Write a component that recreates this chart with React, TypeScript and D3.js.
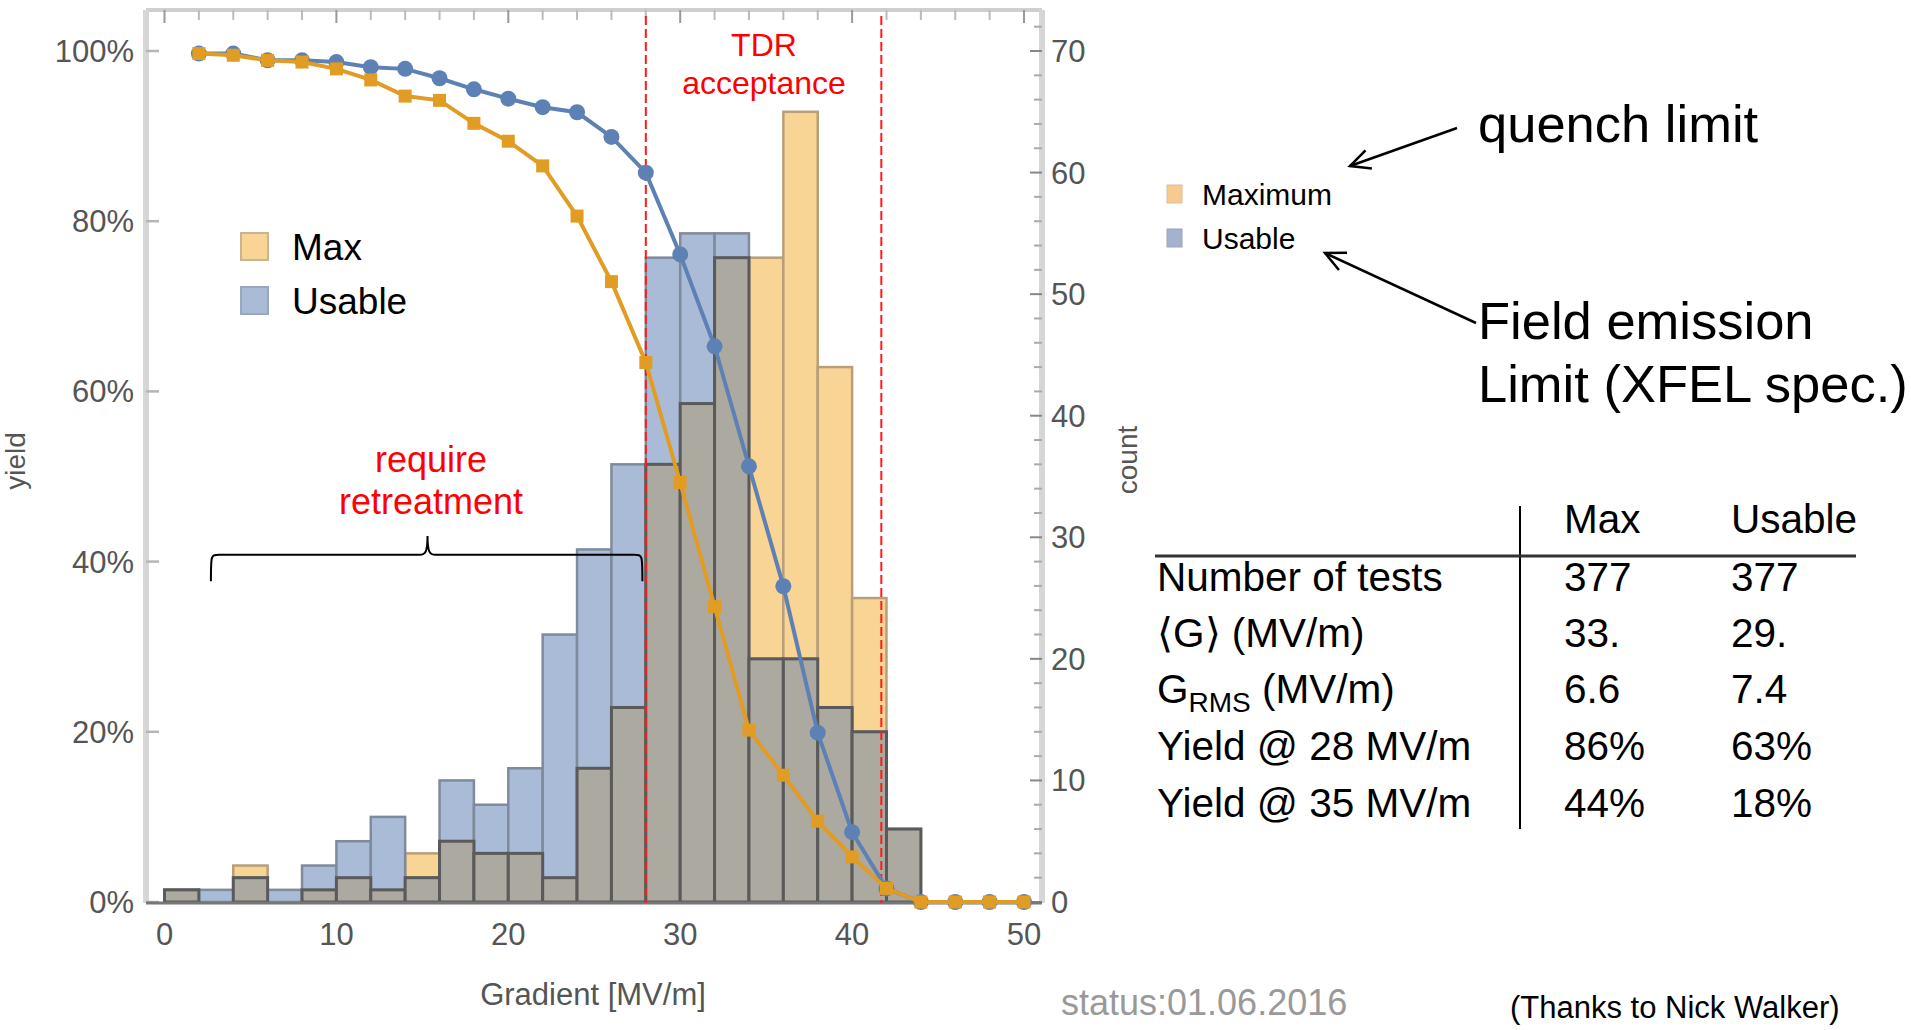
import React from "react";
import * as d3 from "d3";

// histogram bins (lower edge, MV/m), 2 MV/m wide
const binStarts = [0, 2, 4, 6, 8, 10, 12, 14, 16, 18, 20, 22, 24, 26, 28, 30, 32, 34, 36, 38, 40, 42, 44, 46, 48];
const maxCounts = [1, 0, 3, 0, 1, 2, 1, 4, 5, 4, 4, 2, 11, 16, 36, 41, 53, 53, 65, 44, 25, 6, 0, 0, 0];
const usableCounts = [1, 1, 2, 1, 3, 5, 7, 2, 10, 8, 11, 22, 29, 36, 53, 55, 55, 20, 20, 16, 14, 6, 0, 0, 0];

// yield curves (percent of cavities above gradient)
const yieldGradients = [2, 4, 6, 8, 10, 12, 14, 16, 18, 20, 22, 24, 26, 28, 30, 32, 34, 36, 38, 40, 42, 44, 46, 48, 50];
const maxYield = [99.7, 99.7, 98.9, 98.9, 98.7, 98.1, 97.9, 96.8, 95.5, 94.4, 93.4, 92.8, 89.9, 85.7, 76.1, 65.3, 51.2, 37.1, 19.9, 8.2, 1.6, 0, 0, 0, 0];
const usableYield = [99.7, 99.5, 98.9, 98.7, 97.9, 96.6, 94.7, 94.2, 91.5, 89.4, 86.5, 80.6, 72.9, 63.4, 49.3, 34.7, 20.2, 14.9, 9.5, 5.3, 1.6, 0, 0, 0, 0];

const xTicks = [0, 10, 20, 30, 40, 50];
const pctTicks = [0, 20, 40, 60, 80, 100];
const countTicks = [0, 10, 20, 30, 40, 50, 60, 70];

const tdrLimits = [28, 41.7];

const tableHeader = ["Max", "Usable"];
const tableLabels = ["Number of tests", "\u27e8G\u27e9 (MV/m)", "G_RMS", "Yield @ 28 MV/m", "Yield @ 35 MV/m"];
const tableMax = ["377", "33.", "6.6", "86%", "44%"];
const tableUsable = ["377", "29.", "7.4", "63%", "18%"];

const FONT = "'Liberation Sans', Arial, sans-serif";
const BLUE = "#5e81b5";
const ORANGE = "#e19c24";

export default function App() {
  const W = 1911;
  const H = 1030;
  const x = d3.scaleLinear().domain([0, 50]).range([164.5, 1024]);
  const yPct = d3.scaleLinear().domain([0, 100]).range([902, 51]);
  const yCnt = d3.scaleLinear().domain([0, 70]).range([902, 51]);

  const frameL = 146, frameR = 1042, frameT = 10, frameB = 903;

  const bins = binStarts.map((b, i) => ({ b, m: maxCounts[i], u: usableCounts[i] }));

  const maxPts = yieldGradients.map((g, i) => [g, maxYield[i]] as [number, number]);
  const usePts = yieldGradients.map((g, i) => [g, usableYield[i]] as [number, number]);
  const line = d3.line<[number, number]>().x(d => x(d[0])).y(d => yPct(d[1]));

  const topTicks = d3.range(0, 51, 2);
  const minorCount = d3.range(0, 73, 2);

  // brace for "require retreatment"
  const bx0 = x(2.7), bx1 = x(27.8), bm = x(15.3);
  const byL = yPct(40.8), byE = yPct(37.7), byC = yPct(43);
  const brace = `M${bx0},${byE} C${bx0},${byL} ${bx0},${byL} ${bx0 + 8},${byL} L${bm - 8},${byL} C${bm - 2},${byL} ${bm},${byL - 3} ${bm},${byC} C${bm},${byL - 3} ${bm + 2},${byL} ${bm + 8},${byL} L${bx1 - 8},${byL} C${bx1},${byL} ${bx1},${byL} ${bx1},${byE}`;

  const arrow = (x1: number, y1: number, x2: number, y2: number) => {
    const a = Math.atan2(y2 - y1, x2 - x1);
    const L = 22, s = 0.45;
    const p1 = [x2 - L * Math.cos(a - s), y2 - L * Math.sin(a - s)];
    const p2 = [x2 - L * Math.cos(a + s), y2 - L * Math.sin(a + s)];
    return (
      <g stroke="#000" strokeWidth={2.5} fill="none">
        <line x1={x1} y1={y1} x2={x2} y2={y2} />
        <polyline points={`${p1[0]},${p1[1]} ${x2},${y2} ${p2[0]},${p2[1]}`} />
      </g>
    );
  };

  const rowBase = [591, 647, 703, 760, 817];

  return (
    <svg width={W} height={H} style={{ position: "absolute", left: 0, top: 0, background: "#fff" }} fontFamily={FONT}>
      <rect width={W} height={H} fill="#fff" />

      {/* frame */}
      <g>
        <line x1={frameL} x2={frameR} y1={frameT} y2={frameT} stroke="#cfcfcf" strokeWidth={4} />
        <line x1={frameL} x2={frameL} y1={frameT} y2={frameB} stroke="#d6d6d6" strokeWidth={6} />
        <line x1={frameR} x2={frameR} y1={frameT} y2={frameB} stroke="#d6d6d6" strokeWidth={6} />
        {topTicks.map(t => (
          <line key={t} x1={x(t)} x2={x(t)} y1={frameT} y2={frameT + (t % 10 === 0 ? 13 : 10)} stroke={t % 10 === 0 ? "#999" : "#bbb"} strokeWidth={2} />
        ))}
        {pctTicks.map(t => (
          <line key={t} x1={frameL} x2={frameL + 13} y1={yPct(t)} y2={yPct(t)} stroke="#b5b5b5" strokeWidth={2.5} />
        ))}
        {minorCount.map(t => (
          <line key={t} x1={frameR - (t % 10 === 0 ? 12 : 8)} x2={frameR} y1={yCnt(t)} y2={yCnt(t)} stroke={t % 10 === 0 ? "#888" : "#aaa"} strokeWidth={2} />
        ))}
      </g>

      {/* histograms */}
      <g>
        {bins.filter(d => d.m > 0).map(d => (
          <rect key={"m" + d.b} x={x(d.b)} width={x(d.b + 2) - x(d.b)} y={yCnt(d.m)} height={yCnt(0) - yCnt(d.m)} fill="#f9d595" stroke="#b89f79" strokeWidth={2.5} />
        ))}
        {bins.filter(d => d.u > 0).map(d => (
          <rect key={"u" + d.b} x={x(d.b)} width={x(d.b + 2) - x(d.b)} y={yCnt(d.u)} height={yCnt(0) - yCnt(d.u)} fill="#a9bbd6" stroke="#7f8a9c" strokeWidth={2.5} />
        ))}
        {bins.filter(d => Math.min(d.m, d.u) > 0).map(d => {
          const v = Math.min(d.m, d.u);
          return (
            <rect key={"o" + d.b} x={x(d.b)} width={x(d.b + 2) - x(d.b)} y={yCnt(v)} height={yCnt(0) - yCnt(v)} fill="#aca9a0" stroke="#5a5a5a" strokeWidth={3} />
          );
        })}
      </g>

      <line x1={frameL} x2={frameR} y1={frameB} y2={frameB} stroke="#777" strokeWidth={3} />

      {/* TDR dashed lines */}
      {tdrLimits.map(t => (
        <line key={t} x1={x(t)} x2={x(t)} y1={frameT + 6} y2={frameB} stroke="#ff1a1a" strokeWidth={2} strokeDasharray="9,4" />
      ))}

      {/* yield curves */}
      <path d={line(maxPts) || ""} fill="none" stroke={BLUE} strokeWidth={4} />
      {maxPts.map(p => (
        <circle key={p[0]} cx={x(p[0])} cy={yPct(p[1])} r={8} fill={BLUE} />
      ))}
      <path d={line(usePts) || ""} fill="none" stroke={ORANGE} strokeWidth={4} />
      {usePts.map(p => (
        <rect key={p[0]} x={x(p[0]) - 6.5} y={yPct(p[1]) - 6.5} width={13} height={13} fill={ORANGE} />
      ))}

      {/* tick labels */}
      <g fill="#555" fontSize={31}>
        {xTicks.map(t => (
          <text key={t} x={x(t)} y={945} textAnchor="middle">{t}</text>
        ))}
        {pctTicks.map(t => (
          <text key={t} x={134} y={yPct(t) + 11} textAnchor="end">{t}%</text>
        ))}
        {countTicks.map(t => (
          <text key={t} x={1051} y={yCnt(t) + 11}>{t}</text>
        ))}
        <text x={593} y={1005} textAnchor="middle">Gradient [MV/m]</text>
        <text transform="translate(25,461) rotate(-90)" textAnchor="middle" fontSize={28}>yield</text>
        <text transform="translate(1137,460) rotate(-90)" textAnchor="middle" fontSize={28}>count</text>
      </g>

      {/* inner legend */}
      <g fontSize={37}>
        <rect x={241} y={233} width={27} height={27} fill="#f9d595" stroke="#c9b48f" strokeWidth={2} />
        <text x={292} y={260}>Max</text>
        <rect x={241} y={287} width={27} height={27} fill="#a9bbd6" stroke="#9aa6ba" strokeWidth={2} />
        <text x={292} y={314}>Usable</text>
      </g>

      {/* red annotations */}
      <g fill="#ff0000" textAnchor="middle">
        <text x={764} y={56} fontSize={32}>TDR</text>
        <text x={764} y={94} fontSize={32}>acceptance</text>
        <text x={431} y={472} fontSize={36}>require</text>
        <text x={431} y={514} fontSize={36}>retreatment</text>
      </g>
      <path d={brace} fill="none" stroke="#000" strokeWidth={2} />

      {/* outer legend and notes */}
      <g fontSize={30}>
        <rect x={1167} y={185} width={15} height={18} fill="#f8ca8c" stroke="#d8c0a0" strokeWidth={1} />
        <text x={1202} y={205}>Maximum</text>
        <rect x={1167} y={229} width={15} height={18} fill="#a3b3cf" stroke="#9aa4b8" strokeWidth={1} />
        <text x={1202} y={249}>Usable</text>
      </g>
      <g fontSize={52.5}>
        <text x={1478} y={142}>quench limit</text>
        <text x={1478} y={339}>Field emission</text>
        <text x={1478} y={402}>Limit (XFEL spec.)</text>
      </g>
      {arrow(1457, 128, 1350, 166)}
      {arrow(1476, 323, 1325, 253)}

      {/* table */}
      <g fontSize={40.5}>
        {tableHeader.map((h, i) => (
          <text key={h} x={i === 0 ? 1564 : 1731} y={533}>{h}</text>
        ))}
        <line x1={1520} x2={1520} y1={506} y2={829} stroke="#000" strokeWidth={2} />
        <line x1={1155} x2={1856} y1={556} y2={556} stroke="#333" strokeWidth={3} />
        {tableLabels.map((l, i) =>
          l === "G_RMS" ? (
            <text key={l} x={1157} y={rowBase[i]}>
              G<tspan fontSize={28} dy={9}>RMS</tspan><tspan dy={-9}> (MV/m)</tspan>
            </text>
          ) : (
            <text key={l} x={1157} y={rowBase[i]}>{l}</text>
          )
        )}
        {tableMax.map((v, i) => (
          <text key={"m" + i} x={1564} y={rowBase[i]}>{v}</text>
        ))}
        {tableUsable.map((v, i) => (
          <text key={"u" + i} x={1731} y={rowBase[i]}>{v}</text>
        ))}
      </g>

      <text x={1061} y={1015} fontSize={36} fill="#999">status:01.06.2016</text>
      <text x={1510} y={1018} fontSize={31}>(Thanks to Nick Walker)</text>
    </svg>
  );
}
